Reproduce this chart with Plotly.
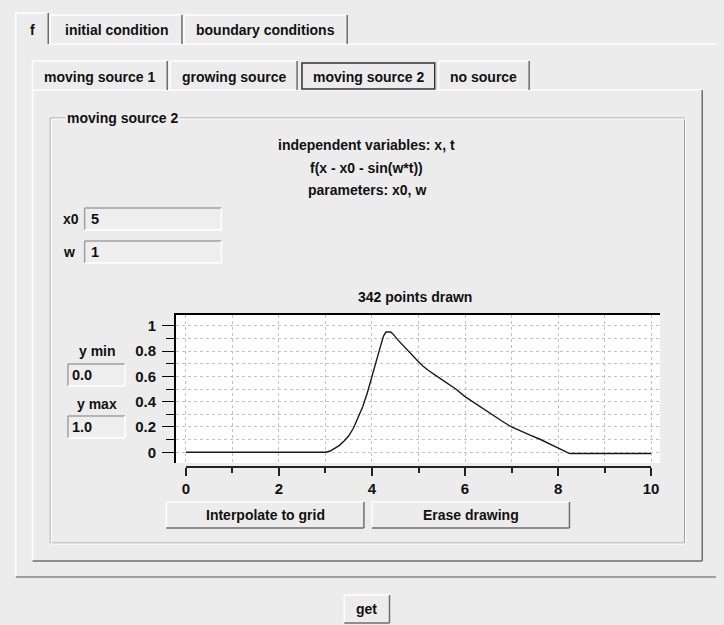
import plotly.graph_objects as go

# ---------------- data (hand-drawn curve) ----------------
curve_x = [0, 3.0, 3.1, 3.2, 3.3, 3.4, 3.5, 3.6, 3.7, 3.8, 3.9, 4.0, 4.1, 4.2, 4.25,
           4.3, 4.4, 4.45, 4.55, 4.65, 4.75, 4.9, 5.0, 5.1, 5.2, 5.4, 5.6, 5.8, 6.0,
           6.2, 6.4, 6.6, 6.8, 7.0, 7.2, 7.4, 7.6, 7.8, 7.95, 8.1, 8.25, 10.0]
curve_y = [0, 0, 0.01, 0.03, 0.055, 0.09, 0.13, 0.19, 0.27, 0.36, 0.47, 0.60, 0.75,
           0.86, 0.92, 0.95, 0.95, 0.935, 0.89, 0.85, 0.81, 0.75, 0.715, 0.68, 0.65,
           0.60, 0.55, 0.50, 0.44, 0.39, 0.345, 0.295, 0.245, 0.20, 0.165, 0.135,
           0.105, 0.07, 0.04, 0.015, -0.01, -0.01]
x_ticks = [0, 2, 4, 6, 8, 10]
y_ticks = [0, 0.2, 0.4, 0.6, 0.8, 1]
y_tick_labels = ["0", "0.2", "0.4", "0.6", "0.8", "1"]

top_tabs = ["f", "initial condition", "boundary conditions"]
sub_tabs = ["moving source 1", "growing source", "moving source 2", "no source"]
info_lines = ["independent variables: x, t", "f(x - x0 - sin(w*t))", "parameters: x0, w"]
param_names = ["x0", "w"]
param_values = ["5", "1"]
ymin_value = "0.0"
ymax_value = "1.0"
points_text = "342 points drawn"
buttons = ["Interpolate to grid", "Erase drawing", "get"]

# ---------------- layout helpers (pixel -> paper) ----------------
W, H = 724, 625
BG = "#ececec"
HI = "#ffffff"
SH = "#a0a0a0"
DK = "#6e6e6e"
TXT = "#111111"
FONT = "Liberation Sans"
FS = 14
GRID = "#c2c2c2"


def X(px):
    return px / W


def Y(py):
    return 1 - py / H


shapes = []
annots = []


def line(x0, y0, x1, y1, color, w=1):
    shapes.append(dict(type="line", xref="paper", yref="paper",
                       x0=X(x0), y0=Y(y0), x1=X(x1), y1=Y(y1),
                       line=dict(color=color, width=w), layer="above"))


def rect(x0, y0, x1, y1, fill, color=None, w=0):
    shapes.append(dict(type="rect", xref="paper", yref="paper",
                       x0=X(x0), y0=Y(y0), x1=X(x1), y1=Y(y1),
                       fillcolor=fill, line=dict(color=color or fill, width=w),
                       layer="below"))


def text(px, py, s, size=FS, anchor="center", bg=None):
    a = dict(xref="paper", yref="paper", x=X(px), y=Y(py), text=s, showarrow=False,
             xanchor=anchor, yanchor="middle",
             font=dict(family=FONT, size=size, color=TXT, weight="bold"))
    if bg:
        a["bgcolor"] = bg
        a["borderpad"] = 1
    annots.append(a)


def raised(x0, y0, x1, y1):
    rect(x0, y0, x1, y1, BG)
    line(x0, y0, x1, y0, HI, 1.5)
    line(x0, y0, x0, y1, HI, 1.5)
    line(x0, y1, x1, y1, DK, 1.5)
    line(x1, y0, x1, y1, DK, 1.5)


def sunken(x0, y0, x1, y1):
    rect(x0, y0, x1, y1, "#eeeeee")
    line(x0, y0, x1, y0, SH, 1.5)
    line(x0, y0, x0, y1, SH, 1.5)
    line(x0, y1, x1, y1, HI, 1.5)
    line(x1, y0, x1, y1, HI, 1.5)


# ---------------- outer tab panel ----------------
line(45, 44, 724, 44, HI, 1.5)
line(12, 44, 12, 577, HI, 1.5)
line(12, 577, 724, 577, SH, 2)

# top tabs
tab_boxes = [(12, 13, 45), (47, 15, 181), (183, 15, 349)]
for (x0, y0, x1), label in zip(tab_boxes, top_tabs):
    line(x0, y0, x1, y0, HI, 1.5)
    line(x0, y0, x0, 44, HI, 1.5)
    line(x1, y0, x1, 44, DK, 1.5)
    text((x0 + x1) / 2, 30, label)

# ---------------- sub tab panel ----------------
line(29, 90, 710, 90, HI, 1.5)
line(29, 90, 29, 561, HI, 1.5)
line(710, 90, 710, 561, DK, 1.5)
line(29, 561, 710, 561, DK, 1.5)

sub_boxes = [(29, 166), (169, 298), (303, 438), (442, 534)]
for i, ((x0, x1), label) in enumerate(zip(sub_boxes, sub_tabs)):
    if i == 2:
        shapes.append(dict(type="rect", xref="paper", yref="paper",
                           x0=X(x0), y0=Y(63), x1=X(x1), y1=Y(89),
                           line=dict(color="#333333", width=1.5), layer="above"))
        line(x1 + 1, 62, x1 + 1, 90, SH, 1)
    else:
        line(x0, 61, x1, 61, HI, 1.5)
        line(x0, 61, x0, 90, HI, 1.5)
        line(x1, 61, x1, 90, DK, 1.5)
    text((x0 + x1) / 2, 77, label)

# ---------------- group box (etched) ----------------
for off, col in ((0, SH), (1, HI)):
    line(47 + off, 118 + off, 692 + off, 118 + off, col, 1)
    line(47 + off, 118 + off, 47 + off, 543 + off, col, 1)
    line(47 + off, 543 + off, 692 + off, 543 + off, col, 1)
    line(692 + off, 118 + off, 692 + off, 543 + off, col, 1)
text(62, 118, sub_tabs[2], anchor="left", bg=BG)

for i, s in enumerate(info_lines):
    text(369, 145 + i * 22.5, s)

for i, (n, v) in enumerate(zip(param_names, param_values)):
    yc = 219 + i * 33
    text(58, yc, n, anchor="left")
    sunken(82, yc - 11, 221, yc + 11)
    text(86, yc, v, anchor="left", size=FS + 0.5)

text(95, 351, "y min")
sunken(65, 364, 123, 386)
text(67, 375, ymin_value, anchor="left", size=FS + 0.5)
text(95, 404, "y max")
sunken(65, 416, 123, 438)
text(67, 427, ymax_value, anchor="left", size=FS + 0.5)

text(418, 297, points_text)

btn_boxes = [(165, 502, 366, 528), (374, 502, 575, 528), (346, 595, 392, 623)]
for (x0, y0, x1, y1), label in zip(btn_boxes, buttons):
    raised(x0, y0, x1, y1)
    text((x0 + x1) / 2, (y0 + y1) / 2, label)

# ---------------- the plot ----------------
PL, PR, PT, PB = 175, 667, 315, 463   # white drawing area
XL, XR, XAX = 185, 658, 467           # detached x axis (0..10)
ypx0, ypx1 = 452.3, 325.7             # pixel rows of y=0 and y=1
scale = (ypx0 - ypx1)
y_lo = (ypx0 - PB) / scale
y_hi = (ypx0 - PT) / scale
xs = (XR - XL) / 10
x_lo = (PL - XL) / xs
x_hi = 10 + (PR - XR) / xs

# white drawing surface (subplot backgrounds kept transparent)
rect(PL, PT, PR, PB, "white")

fig = go.Figure()
fig.add_trace(go.Scatter(x=curve_x, y=curve_y, mode="lines",
                         line=dict(color="#1a1a1a", width=1.4),
                         hoverinfo="skip", showlegend=False))
# invisible carrier for the detached x axis
fig.add_trace(go.Scatter(x=[0, 10], y=[0, 1], mode="markers", xaxis="x2", yaxis="y2",
                         marker=dict(opacity=0), hoverinfo="skip", showlegend=False))

tickfont = dict(family=FONT, size=15, color=TXT, weight="bold")
grid = dict(showgrid=True, gridcolor=GRID, griddash="dot", gridwidth=1)

fig.update_layout(
    width=W, height=H,
    margin=dict(l=0, r=0, t=0, b=0),
    paper_bgcolor=BG, plot_bgcolor="rgba(0,0,0,0)",
    showlegend=False,
    shapes=shapes, annotations=annots,
    xaxis=dict(domain=[X(PL), X(PR)], range=[x_lo, x_hi], side="top",
               showline=True, linecolor="black", linewidth=2,
               dtick=1, tick0=0, showticklabels=False, ticks="",
               zeroline=False, fixedrange=True, **grid),
    yaxis=dict(domain=[Y(PB), Y(PT)], range=[y_lo, y_hi],
               showline=True, linecolor="black", linewidth=2,
               tickmode="array", tickvals=y_ticks, ticktext=y_tick_labels,
               ticks="outside", ticklen=12, tickcolor="black", tickwidth=1,
               tickfont=tickfont, ticklabelstandoff=3,
               minor=dict(dtick=0.1, tick0=0, ticks="outside", ticklen=8,
                          tickcolor="black", showgrid=True, gridcolor=GRID,
                          griddash="dot"),
               zeroline=False, fixedrange=True, **grid),
    xaxis2=dict(domain=[X(XL), X(XR)], range=[0, 10], anchor="free",
                position=Y(XAX), showline=True, linecolor="#222222", linewidth=1.5,
                tickmode="array", tickvals=x_ticks, ticks="outside", ticklen=8,
                tickcolor="#222222", tickwidth=1.5, tickfont=tickfont,
                minor=dict(dtick=1, tick0=0, ticks="outside", ticklen=5,
                           tickcolor="#222222"),
                showgrid=False, zeroline=False, fixedrange=True),
    yaxis2=dict(domain=[Y(PB), Y(PT)], range=[-10, -9], visible=False,
                anchor="x2", fixedrange=True),
)

fig.write_html("out.html", config={"displayModeBar": False},
               post_script="document.body.style.margin='0px';")
